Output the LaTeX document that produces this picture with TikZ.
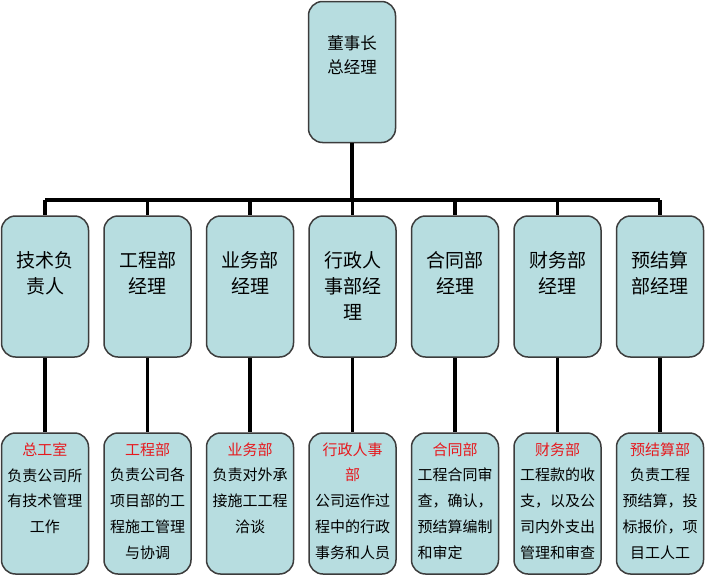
\documentclass[tikz,border=0pt]{standalone}
\usepackage{fontspec}
\setmainfont{Noto Sans CJK SC}
\usetikzlibrary{positioning}
\definecolor{boxfill}{RGB}{183,221,224}
\definecolor{boxline}{RGB}{60,60,60}
\definecolor{deptred}{RGB}{230,25,30}

\begin{document}
\begin{tikzpicture}[
    x=1pt, y=-1pt,
    box/.style={draw=boxline, fill=boxfill, line width=1.5pt, rounded corners=14pt,
                minimum width=87pt, minimum height=141pt, inner sep=0pt},
    headtext/.style={align=center, inner sep=0pt, font=\fontsize{16.5}{24}\selectfont},
    mgrtext/.style={align=center, inner sep=0pt, font=\fontsize{19}{26}\selectfont},
    dutytext/.style={align=center, inner sep=0pt, font=\fontsize{15}{25.8}\selectfont},
    wire/.style={line width=3.5pt}
]
  \useasboundingbox (0,0) rectangle (705,576);

  % boxes
  \node[box] (top) at (352,72) {};
  \node[box] (m1) at (45,286.5)  {};
  \node[box] (m2) at (147.5,286.5) {};
  \node[box] (m3) at (250,286.5) {};
  \node[box] (m4) at (352.5,286.5) {};
  \node[box] (m5) at (455,286.5) {};
  \node[box] (m6) at (557.5,286.5) {};
  \node[box] (m7) at (660,286.5) {};
  \node[box] (b1) at (45,503.5)  {};
  \node[box] (b2) at (147.5,503.5) {};
  \node[box] (b3) at (250,503.5) {};
  \node[box] (b4) at (352.5,503.5) {};
  \node[box] (b5) at (455,503.5) {};
  \node[box] (b6) at (557.5,503.5) {};
  \node[box] (b7) at (660,503.5) {};

  % texts
  \node[headtext, below=35pt of top.north] (toptext) {董事长\\总经理};
  \node[mgrtext, below=36pt of m1.north] (m1text) {技术负\\责人};
  \node[mgrtext, below=36pt of m2.north] (m2text) {工程部\\经理};
  \node[mgrtext, below=36pt of m3.north] (m3text) {业务部\\经理};
  \node[mgrtext, below=36pt of m4.north] (m4text) {行政人\\事部经\\理};
  \node[mgrtext, below=36pt of m5.north] (m5text) {合同部\\经理};
  \node[mgrtext, below=36pt of m6.north] (m6text) {财务部\\经理};
  \node[mgrtext, below=36pt of m7.north] (m7text) {预结算\\部经理};
  \node[dutytext, below=10pt of b1.north] (b1text)
    {{\color{deptred}总工室}\\负责公司所\\有技术管理\\工作};
  \node[dutytext, below=10pt of b2.north] (b2text)
    {{\color{deptred}工程部}\\负责公司各\\项目部的工\\程施工管理\\与协调};
  \node[dutytext, below=10pt of b3.north] (b3text)
    {{\color{deptred}业务部}\\负责对外承\\接施工工程\\洽谈};
  \node[dutytext, below=10pt of b4.north] (b4text)
    {{\color{deptred}行政人事}\\{\color{deptred}部}\\公司运作过\\程中的行政\\事务和人员};
  \node[dutytext, below=10pt of b5.north] (b5text)
    {{\color{deptred}合同部}\\工程合同审\\查，确认，\\预结算编制\\和审定\phantom{预结}};
  \node[dutytext, below=10pt of b6.north] (b6text)
    {{\color{deptred}财务部}\\工程款的收\\支，以及公\\司内外支出\\管理和审查};
  \node[dutytext, below=10pt of b7.north] (b7text)
    {{\color{deptred}预结算部}\\负责工程\\预结算，投\\标报价，项\\目工人工};

  % connectors
  \coordinate (bus) at (352,200);
  \draw[wire] (top.south) -- (bus);
  \draw[wire] (bus -| m1.north) -- (bus -| m7.north);
  \foreach \i in {1,...,7} {
    \draw[wire] (bus -| m\i.north) -- (m\i.north);
    \draw[wire] (m\i.south) -- (b\i.north);
  }
\end{tikzpicture}
\end{document}
